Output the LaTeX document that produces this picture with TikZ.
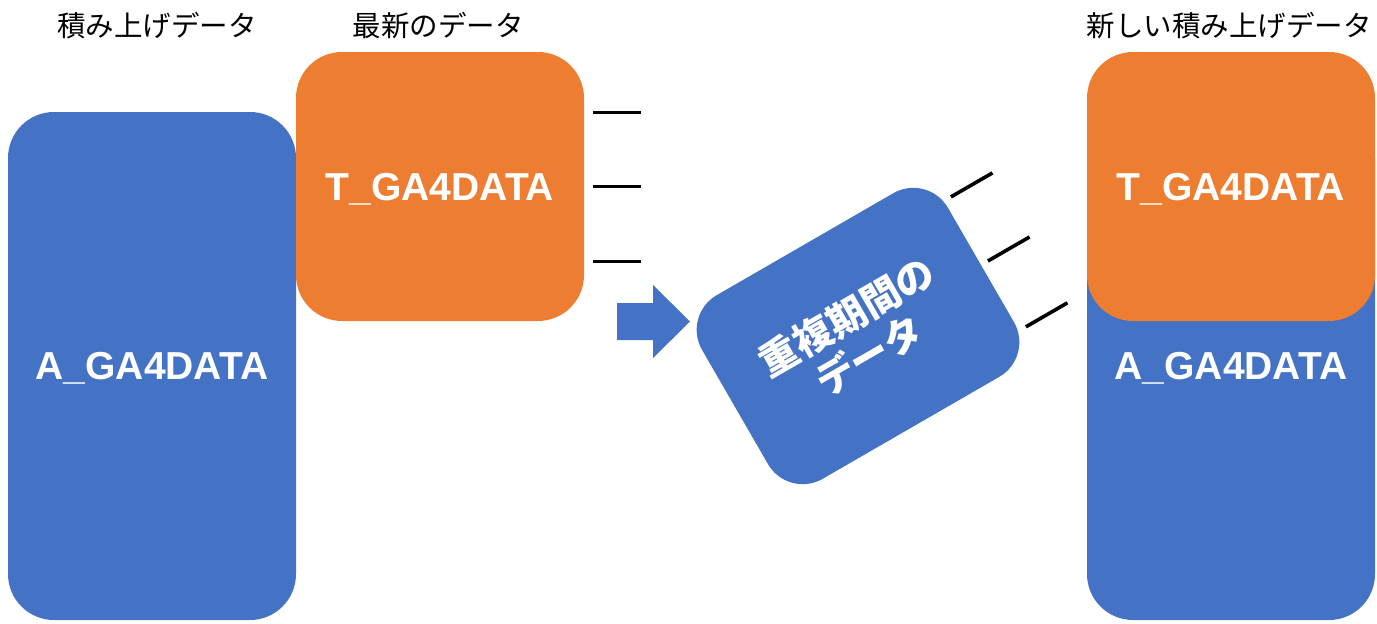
\documentclass[tikz,border=0pt]{standalone}
\usepackage{fontspec}
\setmainfont{Liberation Sans}
\newfontfamily\jpfont{Noto Sans CJK JP}
\usepackage{tikz}
\usetikzlibrary{positioning,calc}
\definecolor{gablue}{HTML}{4472C4}
\definecolor{gaorange}{HTML}{ED7D31}

\begin{document}
\begin{tikzpicture}[x=1pt, y=-1pt,
        box/.style={rounded corners=46pt, minimum width=288pt, inner sep=0pt, text=white, text depth=0pt, font=\fontsize{39}{45}\selectfont\bfseries},
        accbox/.style={box, fill=gablue, minimum height=508pt},
        newbox/.style={box, fill=gaorange, minimum height=269pt},
        dupbox/.style={box, fill=gablue, minimum width=284pt, minimum height=212pt, rounded corners=40pt, rotate=30, align=center, text depth=, font=\jpfont\fontsize{39}{45}\selectfont\bfseries},
        lbl/.style={inner sep=0pt, font=\jpfont\fontsize{28.5}{30}\selectfont},
        tick/.style={line width=3.6pt},
        blockarrow/.style={fill=gablue}
    ]
        \useasboundingbox (0,0) rectangle (1377,624);

        % Stored data and newest data
        \node[accbox] (stack) at (152,366) {A\_GA4DATA};
        \node[newbox] (newest) at (440,186.5) {T\_GA4DATA};
        \node[lbl] (stacklbl) at (157,26) {積み上げデータ};
        \node[lbl] (newestlbl) at (438,26) {最新のデータ};

        % Overlapping period
        \fill[blockarrow] (617,303) -- (653,303) -- (653,285) -- (690,321.5) -- (653,358) -- (653,340) -- (617,340) -- cycle;
        \node[dupbox] (overlap) at (858,336) {重複期間の\\データ};

        % Result
        \node[accbox] (merged) at (1231,366) {A\_GA4DATA};
        \node[newbox] (mergednew) at (1231,186.5) {T\_GA4DATA};
        \node[lbl] (mergedlbl) at (1229,26) {新しい積み上げデータ};

        % Ticks
        \foreach \dy in {-74,0,75}
            \draw[tick] ($(newest.east)+(9,\dy)$) -- ++(48,0);
        \begin{scope}[shift={(overlap.center)}, rotate=30]
            \foreach \dy in {-74,0,76}
                \draw[tick] (150,\dy) -- (198,\dy);
        \end{scope}
    \end{tikzpicture}
\end{document}
